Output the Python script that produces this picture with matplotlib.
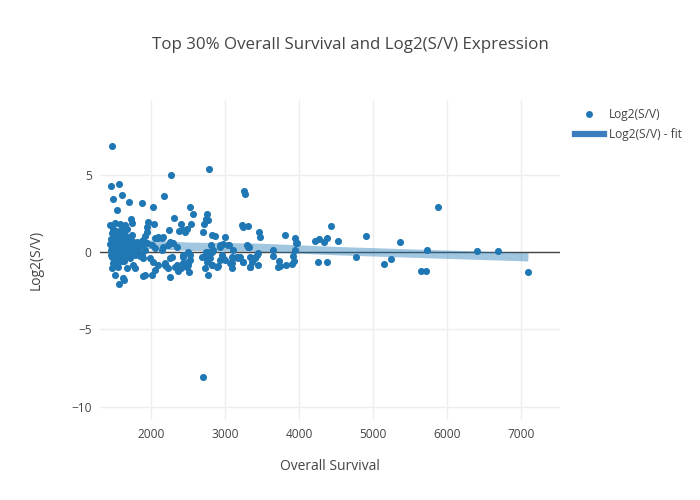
import matplotlib
matplotlib.use("Agg")
import matplotlib.pyplot as plt
from matplotlib.lines import Line2D

# points (overall survival, log2(S/V))
survival = [
    1469, 2266, 2788, 1459, 1568, 1491, 1610, 1703, 1876, 2180, 2030, 1536,
    3261, 3270, 2527, 2563, 2752, 2743, 2774, 2712, 2311, 2238, 2410, 2378,
    2482, 2541, 2464, 2703, 2818, 2865, 3000, 3225, 3247, 3307, 3455, 3478,
    1959, 2045, 1942, 1874, 1919, 1950, 1730, 1745, 1446, 1514, 1581, 1644,
    1671, 1491, 1739, 2099, 2166, 2234, 2301, 2347, 2284, 2257, 2437, 2527,
    2496, 2482, 2514, 2437, 2324, 2355, 2405, 2369, 2257, 2203, 2189, 2806,
    2788, 2743, 2685, 2762, 2820, 2910, 2931, 2968, 3050, 3113, 3180, 3113,
    3090, 3090, 3158, 3239, 3293, 3328, 3361, 3405, 3338, 3450, 3450, 3653,
    3653, 3725, 3720, 3743, 3807, 3820, 3901, 3932, 3924, 3942, 3946, 3960,
    3977, 4216, 4266, 4342, 4378, 4437, 4532, 4257, 4383, 4768, 4909, 5153,
    5239, 5361, 5726, 5645, 5716, 5885, 6409, 6689, 7095, 1568, 1639, 2703,
    1469, 1559, 1514, 1626, 1671, 1761, 1784, 1716, 1649, 1807, 1874, 1896,
    1919, 1986, 2031, 2054, 2014, 1896, 2437, 2099, 2144, 2257, 2279, 2504,
    2437, 2527, 2774, 2730, 2797, 2842, 2099, 2189, 2234, 2504, 2730, 2774,
    2054, 2144, 2166, 2932, 3045, 3315, 2820, 2955, 2977, 3000, 3090, 3158,
    3203, 3247, 3338, 3383, 3428, 3360, 2820, 2887, 2932, 3068, 3338, 1896,
    1874, 1942, 1919, 2009, 2054,
    1452, 1455, 1461, 1463, 1470, 1478, 1486, 1497, 1503, 1512, 1521, 1528,
    1536, 1547, 1553, 1562, 1571, 1580, 1588, 1597, 1605, 1613, 1622, 1631,
    1638, 1645, 1656, 1664, 1672, 1685, 1694, 1703, 1718, 1726, 1741, 1752,
    1768, 1779, 1793, 1812, 1828, 1846, 1858, 1467, 1532, 1598, 1655, 1485,
    1545, 1610,
]
log2_sv = [
    6.86, 4.97, 5.35, 4.28, 4.37, 3.44, 3.66, 3.24, 3.20, 3.61, 2.90, 2.72,
    3.94, 3.72, 2.90, 2.44, 2.44, 2.11, 2.06, 1.79, 2.17, 1.42, 1.79, 1.35,
    1.50, 1.84, 1.27, 1.29, 1.10, 1.05, 0.97, 1.76, 1.63, 1.66, 1.31, 0.97,
    1.94, 1.80, 1.63, 0.71, 1.03, 1.27, 2.13, 1.89, 1.74, 1.85, 1.81, 1.76,
    1.50, 1.46, 1.10, 0.99, 0.95, 0.43, 0.56, 0.34, -0.30, -0.41, -0.22, -0.52,
    -0.62, -0.95, -1.27, -0.73, -0.95, -0.84, -1.05, -1.20, -1.59, -0.90, -0.73, 0.45,
    -0.04, 0.02, -0.34, -0.62, -0.84, -0.90, 0.34, 0.52, 0.45, 0.13, -0.37, -0.41,
    -0.73, -1.05, -0.34, -0.62, 0.45, 0.34, -0.41, -0.41, -0.95, -0.09, -0.84, 0.13,
    -0.28, -0.56, -0.95, -0.90, 1.10, -0.86, -0.77, -0.58, -0.24, 0.11, 0.88, 0.56,
    0.56, 0.73, 0.82, 0.65, 0.88, 1.66, 0.73, -0.67, -0.62, -0.30, 1.01, -0.80,
    -0.47, 0.65, 0.15, -1.20, -1.23, 2.90, 0.06, 0.08, -1.29, -2.08, -1.80, -8.11,
    -1.05, -0.95, -1.48, -1.70, -1.05, -0.84, -1.05, -0.41, -0.30, -0.09, -0.19, -0.41,
    -1.48, -0.41, -0.62, -1.16, -1.48, -1.53, 1.42, 0.88, 0.88, 0.67, 0.56, 0.02,
    -0.30, -0.19, 0.02, -0.30, -0.41, 0.13, -0.84, -0.84, -1.05, -0.84, -1.05, -1.48,
    0.24, 0.13, 0.34, 0.45, 0.45, 0.34, 0.02, -0.19, -0.41, -0.52, -0.30, -0.30,
    -0.30, -0.62, -0.30, -0.41, -0.19, -0.62, -0.84, -0.95, -0.52, -0.73, -0.95, 0.77,
    0.45, 0.56, 0.13, 0.45, 0.88,
    0.55, 0.12, -0.18, 0.83, -0.35, 0.41, 0.02, 0.63, -0.22, 0.94, 0.28, -0.52,
    0.08, 0.71, -0.41, 0.47, -0.03, 1.02, -0.31, 0.26, 0.79, -0.12, 0.52, 1.18,
    -0.61, 0.18, 0.68, -0.24, 0.38, 0.91, -0.05, 0.57, -0.33, 0.21, 0.74, 0.06,
    0.44, -0.18, 0.31, 0.62, 0.04, 0.36, -0.27, 1.25, 1.35, 1.40, 1.10, -0.70,
    -0.80, -0.55,
]

# smoothed fit line
fit_x = [1460, 1650, 2530, 3430, 3880, 4560, 5720, 7100]
fit_y = [0.60, 0.54, 0.34, 0.28, 0.19, 0.05, -0.13, -0.34]

blue = "#1f77b4"
txt = "#444444"
plt.rcParams["font.family"] = ["Open Sans", "DejaVu Sans"]

fig = plt.figure(figsize=(7, 5), dpi=100)
ax = fig.add_axes([100 / 700, 80 / 500, 460 / 700, 320 / 500])

ax.plot(fit_x, fit_y, color=blue, alpha=0.42, linewidth=6, solid_capstyle="butt", zorder=2)
ax.scatter(survival, log2_sv, s=26, color=blue, linewidths=0, zorder=3)
ax.axhline(0, color=txt, linewidth=1, zorder=1)

ax.set_xlim(1311, 7527)
ax.set_ylim(-10.86, 9.83)
ax.set_xticks([2000, 3000, 4000, 5000, 6000, 7000])
ax.set_yticks([-10, -5, 0, 5])
ax.set_yticklabels(["\u221210", "\u22125", "0", "5"])
ax.grid(True, color="#eeeeee", linewidth=1, zorder=0)
ax.set_axisbelow(True)
for s in ax.spines.values():
    s.set_visible(False)
ax.tick_params(length=0, labelsize=8.6, colors=txt, pad=6)

ax.set_xlabel("Overall Survival", fontsize=10, color=txt, labelpad=13)
ax.set_ylabel("Log2(S/V)", fontsize=10, color=txt, labelpad=20)
fig.text(0.5, 1 - 45 / 500, "Top 30% Overall Survival and Log2(S/V) Expression",
         ha="center", va="center", fontsize=12.2, color=txt)

handles = [
    Line2D([], [], marker="o", linestyle="none", markersize=5, color=blue, markeredgewidth=0),
    Line2D([], [], color="#3a7ebf", linewidth=4.5),
]
fig.legend(handles, ["Log2(S/V)", "Log2(S/V) - fit"], loc="upper left",
           bbox_to_anchor=(575 / 700, 1 - 108 / 500), frameon=False,
           fontsize=8.6, labelcolor=txt, handlelength=2.4, handletextpad=0.45,
           labelspacing=0.6, borderaxespad=0, borderpad=0)

fig.savefig("out.png", dpi=100)
